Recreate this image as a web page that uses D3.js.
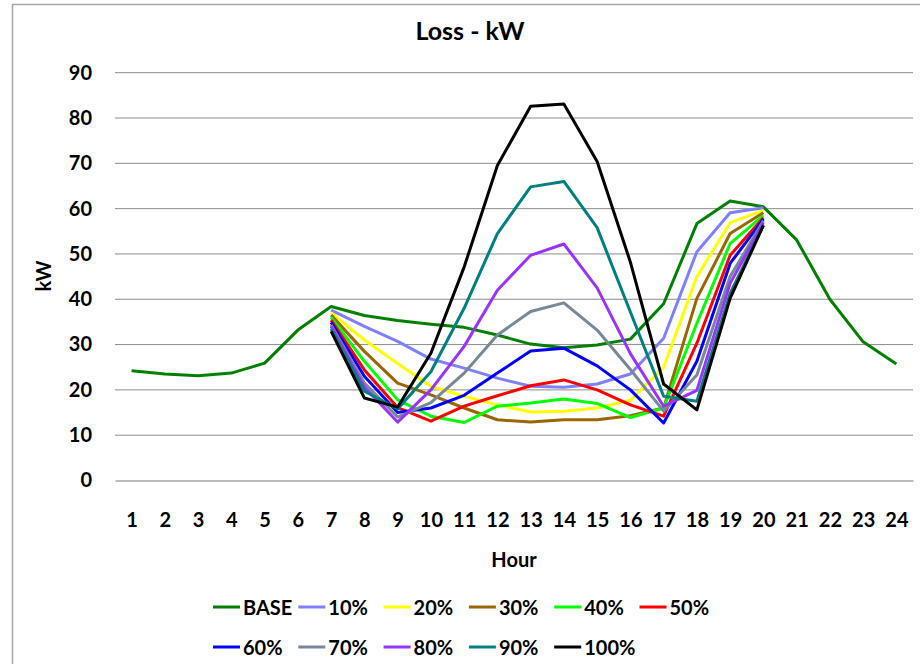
<!DOCTYPE html>
<html>
<head>
<meta charset="utf-8">
<script src="https://cdn.jsdelivr.net/npm/d3@7"></script>
<style>
  body { margin: 0; background: #fff; }
  text { font-family: Lato, "Open Sans", sans-serif; font-weight: bold; fill: #000; }
</style>
</head>
<body>
<div class="lossChart"></div>
<script>
// categories
var hours = [1, 2, 3, 4, 5, 6, 7, 8, 9, 10, 11, 12, 13, 14, 15, 16, 17, 18, 19, 20, 21, 22, 23, 24];
var scenarioHours = [7, 8, 9, 10, 11, 12, 13, 14, 15, 16, 17, 18, 19, 20];
var yTicks = [0, 10, 20, 30, 40, 50, 60, 70, 80, 90];

// series values (kW)
var base = [24.2, 23.5, 23.1, 23.7, 25.9, 33.2, 38.4, 36.4, 35.3, 34.5, 33.8, 32.1, 30.1, 29.3, 29.9, 31.2, 39.0, 56.7, 61.7, 60.4, 53.1, 40.0, 30.6, 25.7];
var p10 = [37.6, 34.0, 30.7, 26.8, 24.8, 22.6, 20.8, 20.6, 21.3, 23.5, 31.4, 50.5, 59.1, 60.2];
var p20 = [37.0, 31.0, 25.8, 20.8, 18.6, 16.7, 15.1, 15.3, 16.0, 17.7, 25.0, 45.0, 56.9, 59.6];
var p30 = [36.5, 28.5, 21.5, 18.9, 16.0, 13.4, 12.9, 13.4, 13.4, 14.3, 16.0, 40.2, 54.5, 59.1];
var p40 = [36.0, 26.3, 17.8, 14.2, 12.8, 16.4, 17.1, 18.0, 17.0, 13.9, 16.0, 34.7, 52.3, 58.5];
var p50 = [35.4, 24.4, 16.1, 13.1, 16.4, 18.7, 20.9, 22.2, 20.0, 16.7, 14.2, 30.3, 49.7, 58.0];
var p60 = [34.9, 23.0, 15.0, 16.0, 18.8, 23.7, 28.6, 29.2, 25.3, 20.0, 12.7, 26.3, 47.9, 57.7];
var p70 = [34.3, 21.5, 14.0, 17.2, 23.7, 32.1, 37.3, 39.2, 33.2, 24.5, 15.3, 23.3, 45.0, 57.3];
var p80 = [34.0, 20.6, 12.9, 20.0, 29.6, 42.0, 49.7, 52.2, 42.5, 28.0, 16.4, 19.9, 43.5, 56.9];
var p90 = [33.4, 19.7, 15.8, 24.0, 38.0, 54.5, 64.8, 66.0, 55.8, 37.2, 18.6, 17.5, 41.3, 56.3];
var p100 = [32.9, 18.2, 16.2, 28.1, 47.1, 69.5, 82.6, 83.1, 70.4, 48.2, 21.3, 15.6, 40.2, 56.3];

var seriesNames = ["BASE", "10%", "20%", "30%", "40%", "50%", "60%", "70%", "80%", "90%", "100%"];
var seriesColors = ["#008000", "#8080ff", "#ffff00", "#996600", "#00ff00", "#ff0000", "#0000ff", "#778899", "#9933ff", "#008080", "#000000"];

var seriesValues = [base, p10, p20, p30, p40, p50, p60, p70, p80, p90, p100];
var seriesList = seriesNames.map(function(name, i) {
  var xs = i === 0 ? hours : scenarioHours;
  return {
    name: name,
    color: seriesColors[i],
    points: seriesValues[i].map(function(v, j) { return { hour: xs[j], value: v }; })
  };
});

var width = 920, height = 664;
var plot = { left: 115, right: 913, top: 72.7, bottom: 480.5 };

var svg = d3.select(".lossChart").append("svg")
  .attr("width", width)
  .attr("height", height);

// chart border (right/bottom edges fall outside the picture)
svg.append("rect")
  .attr("x", 12.5).attr("y", 4.5)
  .attr("width", 940).attr("height", 700)
  .attr("fill", "none")
  .attr("stroke", "#a6a6a6")
  .attr("stroke-width", 1.5);

var x = d3.scalePoint()
  .domain(hours)
  .range([plot.left, plot.right])
  .padding(0.5);

var y = d3.scaleLinear()
  .domain([0, 90])
  .range([plot.bottom, plot.top]);

// gridlines
svg.append("g")
  .selectAll("line")
  .data(yTicks.filter(function(t) { return t > 0; }))
  .enter().append("line")
  .attr("x1", plot.left).attr("x2", plot.right)
  .attr("y1", function(d) { return y(d); })
  .attr("y2", function(d) { return y(d); })
  .attr("stroke", "#8c8c8c")
  .attr("stroke-width", 1);

// y axis labels
var yAxis = svg.append("g")
  .attr("transform", "translate(" + plot.left + ",0)")
  .call(d3.axisLeft(y).tickValues(yTicks).tickSize(0).tickPadding(23));
yAxis.select(".domain").remove();
yAxis.selectAll("text")
  .style("font-size", "20px")
  .style("font-family", "Lato, sans-serif")
  .style("font-weight", "bold");

// x axis
var xAxis = svg.append("g")
  .attr("transform", "translate(0," + plot.bottom + ")")
  .call(d3.axisBottom(x).tickSize(0).tickPadding(32));
xAxis.select(".domain")
  .attr("stroke", "#a6a6a6")
  .attr("stroke-width", 1.5);
xAxis.selectAll("text")
  .style("font-size", "20px")
  .style("font-family", "Lato, sans-serif")
  .style("font-weight", "bold");

// lines
var line = d3.line()
  .x(function(d) { return x(d.hour); })
  .y(function(d) { return y(d.value); });

svg.append("g")
  .selectAll("path")
  .data(seriesList)
  .enter().append("path")
  .attr("d", function(d) { return line(d.points); })
  .attr("fill", "none")
  .attr("stroke", function(d) { return d.color; })
  .attr("stroke-width", 3)
  .attr("stroke-linejoin", "round");

// titles
svg.append("text")
  .attr("x", 470).attr("y", 40)
  .attr("text-anchor", "middle")
  .style("font-size", "25px")
  .text("Loss - kW");

svg.append("text")
  .attr("x", 514).attr("y", 567)
  .attr("text-anchor", "middle")
  .style("font-size", "20px")
  .text("Hour");

svg.append("text")
  .attr("transform", "translate(51,276) rotate(-90)")
  .attr("text-anchor", "middle")
  .style("font-size", "20px")
  .text("kW");

// legend
var legend = svg.append("g")
  .selectAll("g")
  .data(seriesList)
  .enter().append("g")
  .attr("transform", function(d, i) {
    var col = i < 6 ? i : i - 6;
    var row = i < 6 ? 0 : 1;
    return "translate(" + (213 + col * 85.3) + "," + (607 + row * 40) + ")";
  });

legend.append("line")
  .attr("x1", 0).attr("x2", 27)
  .attr("y1", 0).attr("y2", 0)
  .attr("stroke", function(d) { return d.color; })
  .attr("stroke-width", 3);

legend.append("text")
  .attr("x", 30).attr("y", 7.5)
  .style("font-size", "20px")
  .text(function(d) { return d.name; });
</script>
</body>
</html>
